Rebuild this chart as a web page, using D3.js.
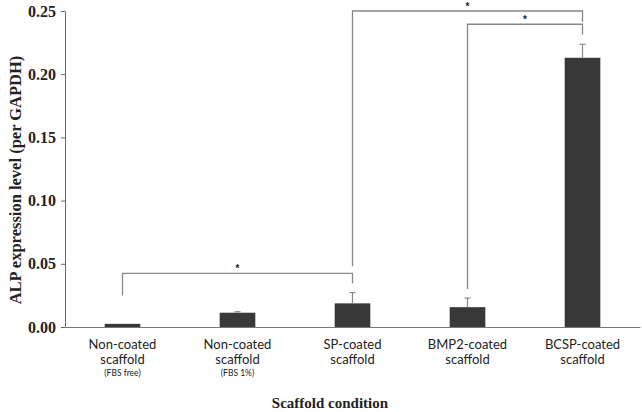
<!DOCTYPE html>
<html><head><meta charset="utf-8">
<script src="https://cdn.jsdelivr.net/npm/d3@7"></script>
<style>body{margin:0;background:#fff}</style>
</head><body>
<svg id="c" width="642" height="412"></svg>
<script>
const categories = ["Non-coated|scaffold|(FBS free)", "Non-coated|scaffold|(FBS 1%)", "SP-coated|scaffold", "BMP2-coated|scaffold", "BCSP-coated|scaffold"];
const values = [0.0025, 0.0113, 0.0187, 0.0157, 0.213];
const errors = [0.0, 0.0008, 0.0085, 0.0072, 0.0107];
const yTicks = [0, 0.05, 0.10, 0.15, 0.20, 0.25];
// significance brackets: [fromIndex, toIndex, level, leftLegEnd, rightLegEnd]
const brackets = [
  {a: 0, b: 2, y: 0.0425, la: 0.025, lb: 0.0345},
  {a: 2, b: 4, y: 0.2500, la: 0.0480, lb: 0.2412},
  {a: 3, b: 4, y: 0.2395, la: 0.030, lb: 0.2315}
];

const svg = d3.select("#c");
const m = {l: 65, r: 2, t: 11, b: 85};
const W = 642, H = 412;
const x = d3.scaleBand().domain(d3.range(categories.length)).range([m.l, W - m.r]).padding(0);
const y = d3.scaleLinear().domain([0, 0.25]).range([H - m.b, m.t]);
const bw = x.bandwidth() * 0.31;
const cx = i => x(i) + x.bandwidth() / 2;

// axes
const yAxis = d3.axisLeft(y).tickValues(yTicks).tickFormat(d3.format(".2f")).tickSize(4).tickSizeOuter(0);
const gy = svg.append("g").attr("transform", `translate(${m.l},0)`).call(yAxis);
gy.select(".domain").attr("stroke", "#666");
gy.selectAll(".tick line").attr("stroke", "#666");
gy.selectAll(".tick text").attr("font-family", "Liberation Serif, serif").attr("font-weight", "bold")
  .attr("font-size", 16).attr("fill", "#222").attr("x", -9);

const xAxis = d3.axisBottom(x).tickSize(0).tickFormat("");
const gx = svg.append("g").attr("transform", `translate(0,${y(0)})`).call(xAxis);
gx.select(".domain").attr("stroke", "#777");

// bars
svg.selectAll(".bar").data(values).join("rect")
  .attr("x", (d, i) => cx(i) - bw / 2).attr("width", bw)
  .attr("y", d => y(d)).attr("height", d => y(0) - y(d)).attr("fill", "#383838");

// error bars
const eg = svg.append("g").attr("stroke", "#888").attr("stroke-width", 1.2);
values.forEach((v, i) => {
  if (errors[i] <= 0) return;
  eg.append("line").attr("x1", cx(i)).attr("x2", cx(i)).attr("y1", y(v)).attr("y2", y(v + errors[i]));
  eg.append("line").attr("x1", cx(i) - 3).attr("x2", cx(i) + 3).attr("y1", y(v + errors[i])).attr("y2", y(v + errors[i]));
});

// brackets
const bg = svg.append("g").attr("stroke", "#888").attr("stroke-width", 1.3).attr("fill", "none");
brackets.forEach(b => {
  bg.append("path").attr("d",
    `M${cx(b.a)},${y(b.la)}V${y(b.y)}H${cx(b.b)}V${y(b.lb)}`);
  svg.append("text").attr("x", (cx(b.a) + cx(b.b)) / 2).attr("y", y(b.y) - 5)
    .attr("dominant-baseline", "central")
    .attr("text-anchor", "middle").attr("font-family", "Liberation Sans, sans-serif")
    .attr("font-size", 10).attr("font-weight", "bold").attr("fill", "#222").text("*");
});

// category labels
categories.forEach((c, i) => {
  const parts = c.split("|");
  parts.forEach((p, j) => {
    svg.append("text").attr("text-anchor", "middle").attr("font-family", "Lato, sans-serif").attr("fill", "#222")
      .attr("x", cx(i)).attr("y", [348.5, 364, 376][j])
      .attr("font-size", j < 2 ? 13 : 8.5).text(p);
  });
});

// axis titles
svg.append("text").attr("x", 330).attr("y", 408).attr("text-anchor", "middle")
  .attr("font-family", "Liberation Serif, serif").attr("font-weight", "bold").attr("font-size", 15)
  .attr("fill", "#222").text("Scaffold condition");
svg.append("text").attr("transform", "translate(21,180) rotate(-90)").attr("text-anchor", "middle")
  .attr("font-family", "Liberation Serif, serif").attr("font-weight", "bold").attr("font-size", 16.5)
  .attr("fill", "#222").text("ALP expression level (per GAPDH)");
</script>
</body></html>
